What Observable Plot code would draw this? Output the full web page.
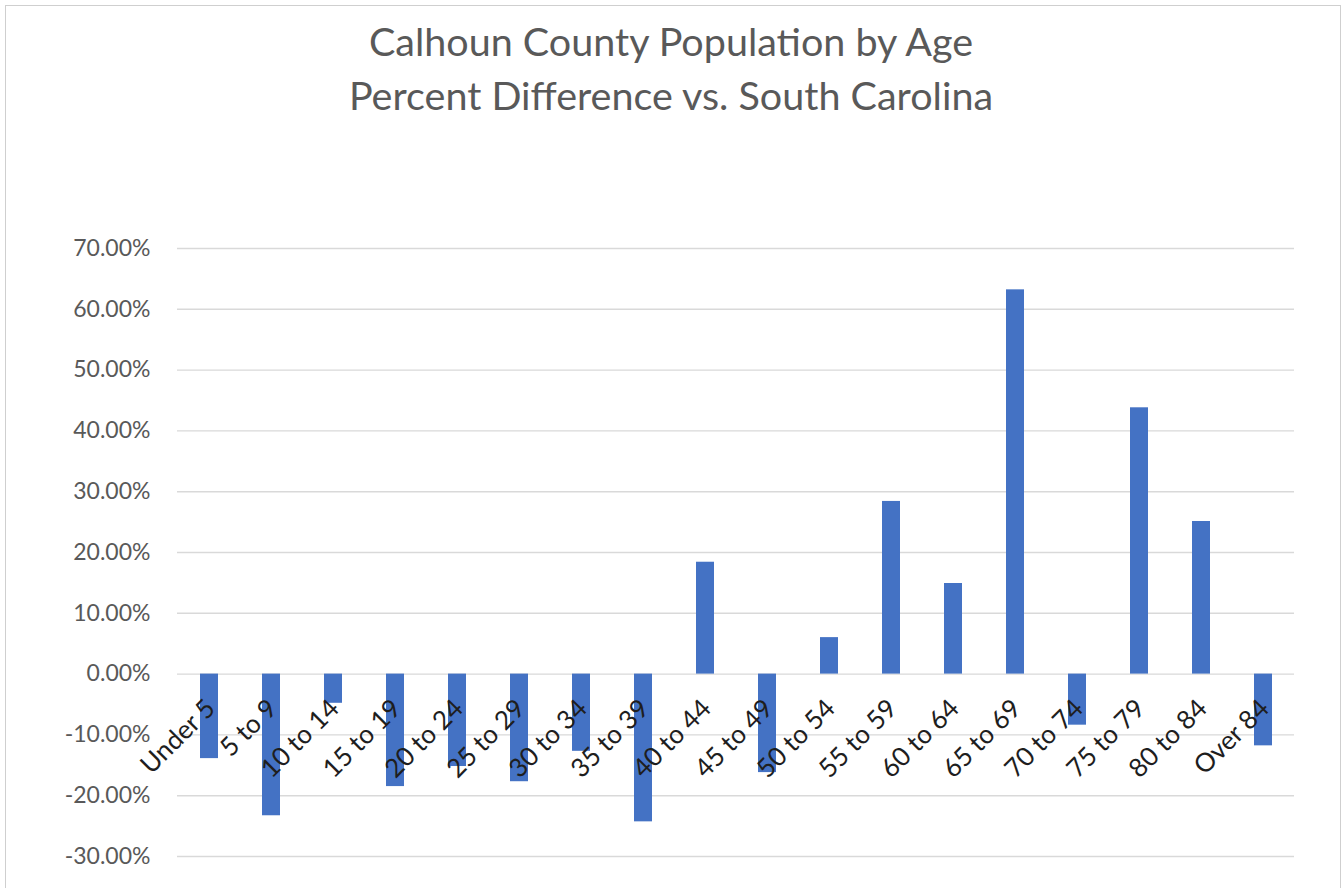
<!DOCTYPE html>
<html>
<head>
<meta charset="utf-8">
<script src="https://cdn.jsdelivr.net/npm/d3@7"></script>
<script src="https://cdn.jsdelivr.net/npm/@observablehq/plot@0.6"></script>
<style>
  html, body { margin: 0; padding: 0; background: #fff; }
  body { width: 1342px; height: 888px; position: relative; overflow: hidden; font-family: Lato, "Open Sans", sans-serif; }
  #frame { position: absolute; left: 5px; top: 5px; width: 1336px; height: 900px; border: 1.5px solid #cfcfcf; box-sizing: border-box; pointer-events: none; }
  .title { position: absolute; left: 0; width: 1342px; text-align: center; color: #595959; font-size: 39.5px; line-height: 1; white-space: nowrap; }
  #chart { position: absolute; left: 0; top: 180px; }
</style>
</head>
<body>
<div id="frame"></div>
<div class="title" style="top:21px">Calhoun County Population by Age</div>
<div class="title" style="top:75px">Percent Difference vs. South Carolina</div>
<div id="chart"></div>
<script>
// Age groups and Calhoun County's percent difference from the state share
const ageGroups = ["Under 5", "5 to 9", "10 to 14", "15 to 19", "20 to 24", "25 to 29", "30 to 34", "35 to 39", "40 to 44", "45 to 49", "50 to 54", "55 to 59", "60 to 64", "65 to 69", "70 to 74", "75 to 79", "80 to 84", "Over 84"];
const pctDifference = [-0.139, -0.233, -0.048, -0.185, -0.152, -0.177, -0.127, -0.243, 0.184, -0.162, 0.060, 0.284, 0.149, 0.632, -0.084, 0.438, 0.251, -0.118];
const yTicks = [-0.3, -0.2, -0.1, 0, 0.1, 0.2, 0.3, 0.4, 0.5, 0.6, 0.7];

const rows = ageGroups.map((age, i) => ({age, value: pctDifference[i]}));

const chart = Plot.plot({
  width: 1342,
  height: 708,
  marginLeft: 177,
  marginRight: 48,
  marginTop: 68,
  marginBottom: 32,
  style: {fontFamily: "Lato, 'Open Sans', sans-serif", background: "transparent", overflow: "visible"},
  x: {domain: ageGroups, paddingInner: 0.71, paddingOuter: 0.355, axis: null},
  y: {domain: [-0.3, 0.7]},
  marks: [
    Plot.gridY(yTicks, {stroke: "#d9d9d9", strokeOpacity: 1, strokeWidth: 1.4}),
    Plot.axisY(yTicks, {
      tickSize: 0, tickPadding: 27, fontSize: 23, fill: "#595959", label: null,
      tickFormat: d => (d * 100).toFixed(2) + "%"
    }),
    Plot.barY(rows, {x: "age", y: "value", fill: "#4472C4"}),
    // category labels hang diagonally from the zero line
    Plot.text(rows, {
      x: "age", y: () => 0, text: "age", rotate: -45,
      textAnchor: "end", lineAnchor: "top", dx: -6, dy: 23,
      fontSize: 26, fill: "#1e1e1e"
    })
  ]
});
document.getElementById("chart").append(chart);
</script>
</body>
</html>
